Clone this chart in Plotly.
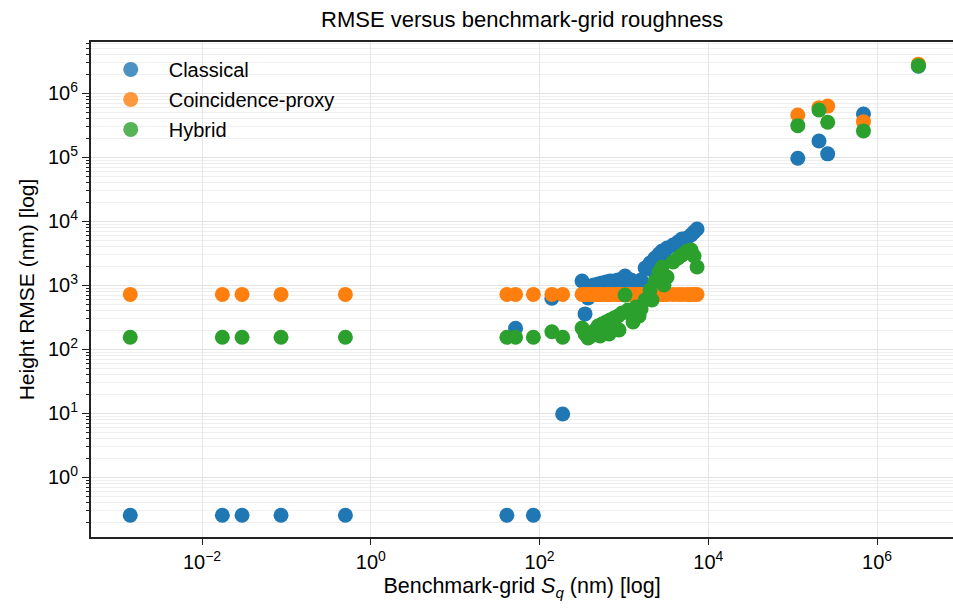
import plotly.graph_objects as go

# Benchmark-grid roughness Sq (nm), shared by all three estimators
sq_nm = [
    0.00141, 0.0174, 0.0298, 0.0863, 0.5,
    41, 52, 84.5, 140, 188,
    319, 346, 376, 408, 443, 493, 551, 614, 685, 764,
    852, 950, 1031, 1118, 1216, 1393, 1596, 1783, 2039, 2337,
    2609, 2830, 3245, 3822, 4380, 4885, 5600, 6250, 6780, 7360,
    521, 667, 875, 1283, 1511, 2152, 2985,
    1.15e5, 2.05e5, 2.6e5, 6.9e5, 3.09e6,
]

# Height RMSE (nm) per estimator
rmse_classical = [
    0.255, 0.255, 0.255, 0.255, 0.255,
    0.255, 213, 0.255, 626, 9.75,
    1167, 357, 634, 975, 1011, 1048, 1086, 1127, 1167, 1167,
    1210, 1254, 1397, 1254, 1210, 1086, 1210, 1863, 2230, 2673,
    3085, 3435, 3830, 4265, 4755, 5300, 5490, 6110, 6800, 7580,
    907, 845, 875, 975, 1048, 1733, 2870,
    9.65e4, 1.8e5, 1.13e5, 4.75e5, 2.65e6,
]

rmse_coincidence = [
    720, 720, 720, 720, 720,
    720, 720, 720, 720, 720,
    720, 720, 720, 720, 720, 720, 720, 720, 720, 720,
    720, 720, 720, 720, 720, 720, 720, 720, 720, 720,
    720, 720, 720, 720, 720, 720, 720, 720, 720, 720,
    720, 720, 720, 720, 720, 720, 720,
    4.58e5, 5.96e5, 6.3e5, 3.6e5, 2.85e6,
]

rmse_hybrid = [
    154, 154, 154, 154, 154,
    154, 154, 154, 188, 154,
    215, 173, 150, 161, 193, 231, 248, 267, 287, 308,
    331, 369, 705, 411, 357, 458, 426, 589, 843, 1167,
    1614, 1930, 1349, 2310, 2673, 2970, 3435, 3563, 2870, 1930,
    161, 173, 200, 267, 331, 589, 1011,
    3.12e5, 5.48e5, 3.52e5, 2.58e5, 2.7e6,
]

series_names = ["Classical", "Coincidence-proxy", "Hybrid"]
series_values = [rmse_classical, rmse_coincidence, rmse_hybrid]
series_colors = ["#1f77b4", "#ff7f0e", "#2ca02c"]
legend_colors = ["rgba(31,119,180,0.8)", "rgba(255,127,14,0.8)", "rgba(44,160,44,0.8)"]

x_tickvals = [1e-2, 1e0, 1e2, 1e4, 1e6]
x_ticktext = ["10<sup>−2</sup>", "10<sup>0</sup>", "10<sup>2</sup>", "10<sup>4</sup>", "10<sup>6</sup>"]
y_tickvals = [1e0, 1e1, 1e2, 1e3, 1e4, 1e5, 1e6]
y_ticktext = ["10<sup>0</sup>", "10<sup>1</sup>", "10<sup>2</sup>", "10<sup>3</sup>",
              "10<sup>4</sup>", "10<sup>5</sup>", "10<sup>6</sup>"]

FONT = "Liberation Sans, Arial, sans-serif"

fig = go.Figure()

for name, vals, color in zip(series_names, series_values, series_colors):
    fig.add_trace(go.Scatter(
        x=sq_nm, y=vals, mode="markers", name=name, showlegend=False,
        marker=dict(size=15, color=color, line=dict(width=0)),
    ))

# legend entries drawn with the translucent scatter colour
for name, color in zip(series_names, legend_colors):
    fig.add_trace(go.Scatter(
        x=[None], y=[None], mode="markers", name=name, legendgroup=name,
        marker=dict(size=15, color=color, line=dict(width=0)),
    ))

y_minor = [m * 10.0 ** k for k in range(-1, 7) for m in range(2, 10)]

fig.update_layout(
    width=953, height=609,
    margin=dict(l=91, r=0, t=42, b=72),
    paper_bgcolor="white", plot_bgcolor="white",
    font=dict(family=FONT, size=20, color="#000000"),
    title=dict(text="RMSE versus benchmark-grid roughness", x=0.548, xanchor="center",
               y=1 - 19 / 609, yanchor="middle", yref="container",
               font=dict(family=FONT, size=22, color="#000000")),
    legend=dict(x=0.002, y=0.984, xanchor="left", yanchor="top", bgcolor="rgba(0,0,0,0)",
                font=dict(family=FONT, size=20, color="#000000"), itemwidth=66,
                borderwidth=0, tracegroupgap=1),
    xaxis=dict(
        type="log", range=[-3.316, 6.90],
        tickmode="array", tickvals=x_tickvals, ticktext=x_ticktext,
        ticks="outside", ticklen=6, tickwidth=1.2, tickcolor="#222222",
        showline=True, linecolor="#222222", linewidth=2, mirror=True,
        showgrid=True, gridcolor="#e6e6e6", gridwidth=1,
        zeroline=False,
        tickfont=dict(family=FONT, size=20, color="#000000"),
        title=dict(text="Benchmark-grid <i>S<sub>q</sub></i> (nm) [log]",
                   font=dict(family=FONT, size=21.5, color="#000000"), standoff=6),
    ),
    yaxis=dict(
        type="log", range=[-0.933, 6.801],
        tickmode="array", tickvals=y_tickvals, ticktext=y_ticktext,
        ticks="outside", ticklen=7, tickwidth=1.2, tickcolor="#222222",
        showline=True, linecolor="#222222", linewidth=2, mirror=False,
        showgrid=True, gridcolor="#e3e3e3", gridwidth=1,
        zeroline=False,
        minor=dict(tickmode="array", tickvals=y_minor, ticks="outside", ticklen=3.5,
                   tickcolor="#222222", showgrid=True, gridcolor="#efefef", gridwidth=1),
        tickfont=dict(family=FONT, size=20, color="#000000"),
        title=dict(text="Height RMSE (nm) [log]",
                   font=dict(family=FONT, size=21, color="#000000"), standoff=8),
    ),
)

fig.write_html("out.html")
